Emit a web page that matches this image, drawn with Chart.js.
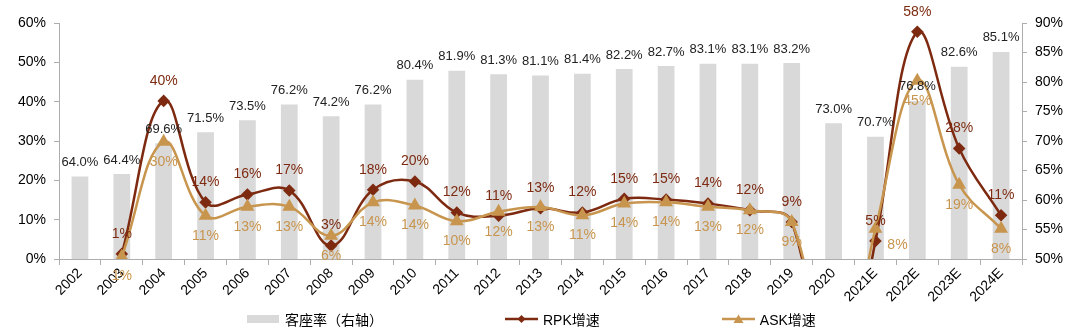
<!DOCTYPE html>
<html>
<head>
<meta charset="utf-8">
<script src="https://cdn.jsdelivr.net/npm/chart.js@4.4.1/dist/chart.umd.min.js"></script>
<style>
  html, body { margin: 0; padding: 0; background: #fff; }
  #wrap { position: relative; width: 1080px; height: 333px; }
  #legend { position: absolute; left: 247px; top: 309px; display: flex; align-items: center;
            font: 14px "Liberation Sans", "Noto Sans CJK SC", sans-serif; color: #000; }
  .item { display: flex; align-items: center; margin-right: 122px; }
  .item canvas { margin-right: 5px; }
</style>
</head>
<body>
<div id="wrap">
  <canvas id="chart" width="1080" height="333"></canvas>
  <div id="legend"></div>
</div>
<script>
// categories
const years = ['2002', '2003', '2004', '2005', '2006', '2007', '2008', '2009', '2010', '2011', '2012',
  '2013', '2014', '2015', '2016', '2017', '2018', '2019', '2020', '2021E', '2022E', '2023E', '2024E'];

// 客座率 (right axis, %)
const loadFactor = [64.0, 64.4, 69.6, 71.5, 73.5, 76.2, 74.2, 76.2, 80.4, 81.9, 81.3,
  81.1, 81.4, 82.2, 82.7, 83.1, 83.1, 83.2, 73.0, 70.7, 76.8, 82.6, 85.1];

// RPK / ASK growth (left axis, %) - 2020 values fall below the axis
const rpkGrowth = [null, 1.3, 40.2, 14.4, 16.4, 17.4, 3.4, 17.6, 19.7, 11.8, 11.0,
  12.9, 11.8, 15.3, 15.1, 14.1, 12.4, 9.4, -46, 4.6, 57.8, 28.1, 11.1];
const askGrowth = [null, 0.6, 29.8, 11.0, 13.3, 13.3, 5.9, 14.4, 13.6, 9.6, 12.0,
  13.2, 11.1, 14.1, 14.4, 13.3, 12.4, 9.4, -38, 7.7, 45.3, 18.9, 7.7];

const leftTicks = { min: 0, max: 60, step: 10 };
const rightTicks = { min: 50, max: 90, step: 5 };

const rpkColor = '#7D2A10';
const askColor = '#C8954E';
const barColor = '#D9D9D9';
const axisColor = '#ADADAD';
const fontFamily = '"Liberation Sans", "Noto Sans CJK SC", sans-serif';

// labels drawn next to each bar / point
const valueLabels = {
  id: 'valueLabels',
  afterDatasetsDraw(chart) {
    const ctx = chart.ctx;
    ctx.save();
    ctx.textAlign = 'center';
    ctx.textBaseline = 'middle';
    chart.data.datasets.forEach((ds, di) => {
      const meta = chart.getDatasetMeta(di);
      meta.data.forEach((el, i) => {
        const v = ds.data[i];
        if (v === null || v < 0) return;
        if (ds.type === 'bar') {
          ctx.font = '13px ' + fontFamily;
          ctx.fillStyle = '#222';
          ctx.fillText(v.toFixed(1) + '%', el.x, el.y - 14);
        } else {
          ctx.font = '14px ' + fontFamily;
          ctx.fillStyle = ds.borderColor;
          let x = el.x, y = el.y + ds.labelOffset;
          // this one sits to the right of its point in the original
          if (ds.label === 'ASK增速' && years[i] === '2021E') { x += 22; y = el.y + 16; }
          ctx.fillText(Math.round(v) + '%', x, y);
        }
      });
    });
    ctx.restore();
  }
};

new Chart(document.getElementById('chart'), {
  data: {
    labels: years,
    datasets: [
      {
        type: 'line',
        label: 'ASK增速',
        data: askGrowth,
        yAxisID: 'y',
        borderColor: askColor,
        backgroundColor: askColor,
        borderWidth: 2.5,
        tension: 0.4,
        pointStyle: 'triangle',
        pointRadius: 5.5,
        labelOffset: 20,
        order: 1
      },
      {
        type: 'line',
        label: 'RPK增速',
        data: rpkGrowth,
        yAxisID: 'y',
        borderColor: rpkColor,
        backgroundColor: rpkColor,
        borderWidth: 2.5,
        tension: 0.4,
        pointStyle: 'rectRot',
        pointRadius: 4.5,
        labelOffset: -20,
        order: 2
      },
      {
        type: 'bar',
        label: '客座率（右轴）',
        data: loadFactor,
        yAxisID: 'y1',
        backgroundColor: barColor,
        barPercentage: 0.4,
        categoryPercentage: 1,
        order: 3
      }
    ]
  },
  options: {
    responsive: false,
    animation: false,
    layout: { padding: { top: 23, left: 0, right: 0, bottom: 0 } },
    plugins: {
      legend: { display: false },
      tooltip: { enabled: false }
    },
    scales: {
      x: {
        grid: { offset: true, drawOnChartArea: false, drawTicks: true, tickLength: 6, color: axisColor },
        border: { color: axisColor },
        ticks: {
          autoSkip: false, minRotation: 45, maxRotation: 45, padding: 0,
          color: '#000', font: { size: 14, family: fontFamily }
        },
        afterFit(scale) { scale.height = 74; }
      },
      y: {
        position: 'left',
        min: leftTicks.min, max: leftTicks.max,
        grid: { drawOnChartArea: false, tickLength: 5, color: axisColor },
        border: { color: axisColor },
        ticks: {
          stepSize: leftTicks.step, padding: 8, color: '#000',
          font: { size: 14, family: fontFamily },
          callback: v => v + '%'
        },
        afterFit(scale) { scale.width = 59; }
      },
      y1: {
        position: 'right',
        min: rightTicks.min, max: rightTicks.max,
        grid: { drawOnChartArea: false, tickLength: 5, color: axisColor },
        border: { color: axisColor },
        ticks: {
          stepSize: rightTicks.step, padding: 8, color: '#000',
          font: { size: 14, family: fontFamily },
          callback: v => v + '%'
        },
        afterFit(scale) { scale.width = 58; }
      }
    }
  },
  plugins: [valueLabels]
});

// legend below the chart
function swatch(kind, color) {
  const c = document.createElement('canvas');
  c.width = 33; c.height = 12;
  const g = c.getContext('2d');
  if (kind === 'bar') {
    g.fillStyle = color;
    g.fillRect(0, 2, 32, 8);
  } else {
    g.strokeStyle = color;
    g.fillStyle = color;
    g.lineWidth = 2.5;
    g.beginPath(); g.moveTo(0, 6); g.lineTo(33, 6); g.stroke();
    g.beginPath();
    if (kind === 'triangle') {
      g.moveTo(16.5, 1.5); g.lineTo(21.5, 10); g.lineTo(11.5, 10);
    } else {
      g.moveTo(16.5, 2); g.lineTo(20.5, 6); g.lineTo(16.5, 10); g.lineTo(12.5, 6);
    }
    g.closePath(); g.fill();
  }
  return c;
}
const legendItems = [
  ['客座率（右轴）', 'bar', barColor],
  ['RPK增速', 'diamond', rpkColor],
  ['ASK增速', 'triangle', askColor]
];
const legendEl = document.getElementById('legend');
legendItems.forEach(([text, kind, color]) => {
  const item = document.createElement('div');
  item.className = 'item';
  item.appendChild(swatch(kind, color));
  const span = document.createElement('span');
  span.textContent = text;
  item.appendChild(span);
  legendEl.appendChild(item);
});
</script>
</body>
</html>
